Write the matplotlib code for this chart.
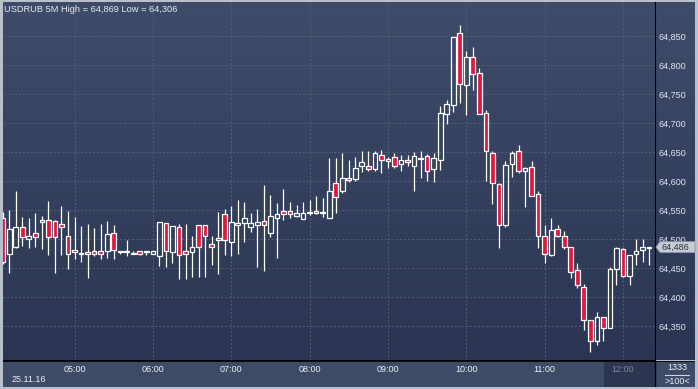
import matplotlib
matplotlib.use('Agg')
import matplotlib.pyplot as plt
import matplotlib.patches as mpatches
from matplotlib.colors import LinearSegmentedColormap
import numpy as np
import pandas as pd

plt.rcParams['font.family'] = ['Liberation Sans', 'DejaVu Sans']

# 5-minute candles, USDRUB, 25.11.16 from 04:05
times = pd.date_range('2016-11-25 04:05', periods=100, freq='5min')

opens = [
    64.536, 64.475, 64.486, 64.520, 64.500, 64.510, 64.530, 64.532, 64.531, 64.526, 64.506,
    64.478, 64.474, 64.477, 64.479, 64.479, 64.479, 64.510, 64.478, 64.478, 64.474,
    64.479, 64.478, 64.475, 64.471, 64.527, 64.478, 64.520, 64.479, 64.477, 64.525,
    64.525, 64.491, 64.498, 64.543, 64.494, 64.525, 64.527, 64.520, 64.524, 64.531,
    64.511, 64.537, 64.548, 64.548, 64.539, 64.535, 64.544, 64.548, 64.544, 64.537,
    64.597, 64.582, 64.606, 64.604, 64.626, 64.625, 64.621, 64.644, 64.635, 64.641,
    64.629, 64.636, 64.626, 64.638, 64.643, 64.620, 64.636, 64.715, 64.731, 64.855,
    64.765, 64.813, 64.787, 64.718, 64.649, 64.594, 64.525, 64.629, 64.651, 64.618,
    64.624, 64.577, 64.506, 64.472, 64.517, 64.505, 64.486, 64.446, 64.418, 64.360,
    64.324, 64.365, 64.346, 64.448, 64.482, 64.437, 64.474, 64.481, 64.484,
]
highs = [
    64.547, 64.550, 64.583, 64.538, 64.537, 64.545, 64.540, 64.566, 64.533, 64.557, 64.548,
    64.538, 64.522, 64.526, 64.519, 64.526, 64.531, 64.524, 64.479, 64.498, 64.479,
    64.479, 64.479, 64.479, 64.529, 64.527, 64.522, 64.526, 64.526, 64.505, 64.525,
    64.525, 64.505, 64.547, 64.552, 64.557, 64.567, 64.564, 64.545, 64.552, 64.593,
    64.576, 64.562, 64.586, 64.564, 64.559, 64.564, 64.567, 64.574, 64.571, 64.640,
    64.640, 64.648, 64.636, 64.641, 64.652, 64.652, 64.651, 64.653, 64.641, 64.648,
    64.644, 64.644, 64.650, 64.652, 64.646, 64.649, 64.729, 64.740, 64.848, 64.869,
    64.824, 64.831, 64.794, 64.722, 64.651, 64.596, 64.634, 64.652, 64.662, 64.624,
    64.634, 64.582, 64.525, 64.537, 64.524, 64.513, 64.486, 64.458, 64.422, 64.360,
    64.375, 64.365, 64.452, 64.487, 64.484, 64.472, 64.500, 64.500, 64.487,
]
lows = [
    64.457, 64.442, 64.485, 64.488, 64.484, 64.487, 64.483, 64.473, 64.442, 64.473, 64.448,
    64.466, 64.461, 64.433, 64.471, 64.466, 64.468, 64.466, 64.475, 64.471, 64.474,
    64.472, 64.473, 64.474, 64.454, 64.452, 64.459, 64.431, 64.431, 64.435, 64.435,
    64.435, 64.455, 64.440, 64.473, 64.470, 64.475, 64.494, 64.512, 64.451, 64.444,
    64.504, 64.468, 64.533, 64.537, 64.538, 64.535, 64.541, 64.543, 64.538, 64.537,
    64.545, 64.580, 64.599, 64.600, 64.616, 64.617, 64.618, 64.614, 64.623, 64.623,
    64.618, 64.626, 64.582, 64.606, 64.600, 64.599, 64.619, 64.699, 64.719, 64.735,
    64.713, 64.757, 64.715, 64.600, 64.561, 64.485, 64.521, 64.607, 64.613, 64.556,
    64.575, 64.484, 64.458, 64.470, 64.503, 64.482, 64.432, 64.415, 64.343, 64.306,
    64.317, 64.325, 64.346, 64.420, 64.434, 64.420, 64.456, 64.460, 64.455,
]
closes = [
    64.460, 64.518, 64.520, 64.503, 64.505, 64.504, 64.533, 64.504, 64.503, 64.520, 64.474,
    64.481, 64.476, 64.474, 64.474, 64.474, 64.509, 64.481, 64.479, 64.479, 64.476,
    64.475, 64.479, 64.479, 64.529, 64.479, 64.522, 64.472, 64.475, 64.487, 64.487,
    64.505, 64.486, 64.501, 64.499, 64.529, 64.528, 64.536, 64.527, 64.529, 64.525,
    64.540, 64.543, 64.543, 64.543, 64.544, 64.545, 64.547, 64.544, 64.547, 64.583,
    64.573, 64.606, 64.602, 64.622, 64.632, 64.620, 64.649, 64.637, 64.638, 64.626,
    64.637, 64.632, 64.643, 64.640, 64.618, 64.640, 64.718, 64.732, 64.848, 64.767,
    64.813, 64.784, 64.715, 64.651, 64.596, 64.525, 64.627, 64.649, 64.617, 64.622,
    64.575, 64.505, 64.474, 64.515, 64.506, 64.486, 64.443, 64.420, 64.360, 64.324,
    64.365, 64.346, 64.449, 64.484, 64.437, 64.472, 64.479, 64.486, 64.486,
]
price_ticks = [64.35, 64.40, 64.45, 64.50, 64.55, 64.60, 64.65, 64.70, 64.75, 64.80, 64.85]

W, H = 698, 389
RED = '#e3173e'

def fr(x0, y0, x1, y1):
    # pixel box (top-left origin) -> figure rect
    return [x0 / W, 1 - y1 / H, (x1 - x0) / W, (y1 - y0) / H]

def comma(v):
    return f'{v:.3f}'.replace('.', ',')

fig = plt.figure(figsize=(W / 100, H / 100), dpi=100, facecolor='#b9c0cb')

# gradient background behind plot + price scale
bg = fig.add_axes(fr(3, 2, 695, 360))
cmap = LinearSegmentedColormap.from_list('bg', ['#3f4c69', '#2b3553'])
bg.imshow(np.linspace(0, 1, 256).reshape(-1, 1), aspect='auto', cmap=cmap, extent=[0, 1, 0, 1])
bg.axis('off')

# time scale panel
axb = fig.add_axes(fr(3, 361, 695, 387))
axb.set_facecolor('#3e4b67')
axb.set_xlim(3, 695)
axb.set_ylim(387, 361)
axb.set_xticks([])
axb.set_yticks([])
for s in axb.spines.values():
    s.set_visible(False)
axb.add_patch(mpatches.Rectangle((604, 361), 50.5, 26, fc='#2c3651', ec='none'))
axb.axvline(654.5, color='black', lw=1)
axb.axhline(361, color='black', lw=1.2)
axb.text(12, 380, times[0].strftime('%d.%m.%y'), color='#eef1f5', fontsize=6.5, va='center')
axb.text(677, 368, '1333', color='#eef1f5', fontsize=6.5, va='center', ha='center')
axb.plot([665, 689], [374.5, 374.5], color='#cfd6e0', lw=0.8)
axb.text(677, 381, '>100<', color='#eef1f5', fontsize=6.5, va='center', ha='center')

# main chart
ax = fig.add_axes(fr(3, 2, 655, 360))
ax.set_facecolor('none')
x = np.arange(len(times))
for i in x:
    o, h, l, c = opens[i], highs[i], lows[i], closes[i]
    top, bot = max(o, c), min(o, c)
    ax.vlines(i, top, h, color='white', lw=0.9, zorder=3)
    ax.vlines(i, l, bot, color='white', lw=0.9, zorder=3)
    ax.add_patch(mpatches.Rectangle((i - 0.36, bot), 0.72, top - bot,
                                    fc=RED if c < o else 'none', ec='white', lw=0.9, zorder=4))

ax.set_xlim(0.05, 99.9)
ax.set_ylim(64.2914, 64.9086)
hours = [i for i, t in enumerate(times) if t.minute == 0]
ax.set_xticks(hours)
ax.set_xticklabels([times[i].strftime('%H:%M') for i in hours])
ax.set_yticks(price_ticks)
ax.set_yticklabels([comma(v) for v in price_ticks])
ax.yaxis.tick_right()
ax.tick_params(axis='y', length=0, pad=2.5, labelsize=6.5, labelcolor='#dfe7f3')
ax.tick_params(axis='x', length=0, pad=3.5, labelsize=6.5, labelcolor='#eef1f5')
ax.get_xticklabels()[-1].set_color('#7d879a')
ax.grid(True, color='#53607b', ls=(0, (2, 2)), lw=0.7)
ax.set_axisbelow(True)
for side in ['left', 'top']:
    ax.spines[side].set_visible(False)
ax.spines['right'].set_color('black')
ax.spines['bottom'].set_color('black')

# title
fig.text(4 / W, 1 - 10 / H,
         f'USDRUB 5M High = {comma(max(highs))} Low = {comma(min(lows))}',
         color='#e6ebf2', fontsize=6.7, va='center')

# last price tag (drawn over the price scale, as in the terminal)
ty = ax.transData.transform((0, closes[-1]))[1]
ypx = H - ty
tag = mpatches.Polygon([(656 / W, 1 - ypx / H), (660 / W, 1 - (ypx - 5.5) / H), (695 / W, 1 - (ypx - 5.5) / H),
                        (695 / W, 1 - (ypx + 5.5) / H), (660 / W, 1 - (ypx + 5.5) / H)],
                       closed=True, transform=fig.transFigure, fc='#c6cbd4', ec='#8c95a5', lw=0.6)
fig.add_artist(tag)
fig.text(661 / W, 1 - ypx / H, comma(closes[-1]), color='#2b3142', fontsize=6.5, va='center')

fig.savefig('out.png', dpi=100, facecolor=fig.get_facecolor())
